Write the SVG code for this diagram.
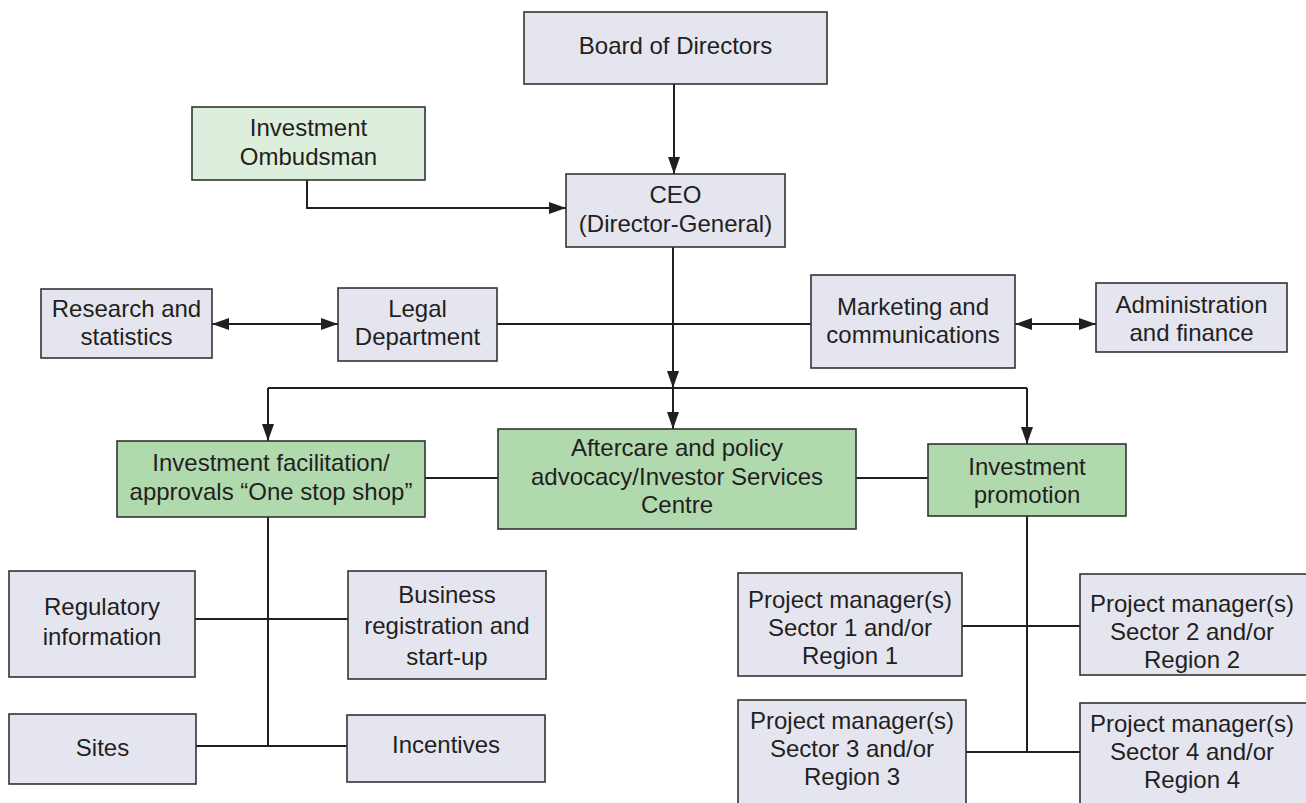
<svg xmlns="http://www.w3.org/2000/svg" width="1306" height="803" viewBox="0 0 1306 803">
<style>
.b{stroke:#333;stroke-width:1.6}
.p{fill:#E5E5F0}
.g{fill:#B1D9AE}
.lg{fill:#DDEEDC}
text{font-family:"Liberation Sans",Arial,sans-serif;font-size:24px;fill:#231F20;text-anchor:middle}
.c{fill:none;stroke:#231F20;stroke-width:2}
</style>
<defs>
<marker id="ah" markerUnits="userSpaceOnUse" markerWidth="17" markerHeight="12" refX="17" refY="6" orient="auto-start-reverse">
<path d="M0,0 L17,6 L0,12 z" fill="#231F20"/>
</marker>
</defs>
<rect width="1306" height="803" fill="#fff"/>
<g id="connectors">
<path class="c" d="M674,84 V174" marker-end="url(#ah)"/>
<path class="c" d="M307,180 V208 H566" marker-end="url(#ah)"/>
<path class="c" d="M212,324 H338" marker-start="url(#ah)" marker-end="url(#ah)"/>
<path class="c" d="M1015,324 H1096" marker-start="url(#ah)" marker-end="url(#ah)"/>
<path class="c" d="M497,324 H811"/>
<path class="c" d="M673,247 V388" marker-end="url(#ah)"/>
<path class="c" d="M268,388 H1027"/>
<path class="c" d="M268,388 V441" marker-end="url(#ah)"/>
<path class="c" d="M673,388 V429" marker-end="url(#ah)"/>
<path class="c" d="M1027,388 V444" marker-end="url(#ah)"/>
<path class="c" d="M425,478 H498 M856,478 H928"/>
<path class="c" d="M268,517 V746 M195,619 H348 M196,746 H347"/>
<path class="c" d="M1027,516 V752 M962,626 H1080 M966,752 H1080"/>
</g>
<g id="board"><rect class="b p" x="524" y="12" width="303" height="72"/><text x="675.5" y="54">Board of Directors</text></g>
<g id="ombudsman"><rect class="b lg" x="192" y="107" width="233" height="73"/><text x="308.5" y="136">Investment</text><text x="308.5" y="165">Ombudsman</text></g>
<g id="ceo"><rect class="b p" x="566" y="174" width="219" height="73"/><text x="675.5" y="203">CEO</text><text x="675.5" y="232">(Director-General)</text></g>
<g id="research"><rect class="b p" x="41" y="289" width="171" height="69"/><text x="126.5" y="317">Research and</text><text x="126.5" y="345">statistics</text></g>
<g id="legal"><rect class="b p" x="338" y="288" width="159" height="73"/><text x="417.5" y="317">Legal</text><text x="417.5" y="345">Department</text></g>
<g id="marketing"><rect class="b p" x="811" y="275" width="204" height="93"/><text x="913" y="315">Marketing and</text><text x="913" y="343">communications</text></g>
<g id="admin"><rect class="b p" x="1096" y="283" width="191" height="69"/><text x="1191.5" y="313">Administration</text><text x="1191.5" y="341">and finance</text></g>
<g id="facilitation"><rect class="b g" x="117" y="441" width="308" height="76"/><text x="271" y="471">Investment facilitation/</text><text x="271" y="500">approvals “One stop shop”</text></g>
<g id="aftercare"><rect class="b g" x="498" y="429" width="358" height="100"/><text x="677" y="456">Aftercare and policy</text><text x="677" y="485">advocacy/Investor Services</text><text x="677" y="513">Centre</text></g>
<g id="promotion"><rect class="b g" x="928" y="444" width="198" height="72"/><text x="1027" y="475">Investment</text><text x="1027" y="503">promotion</text></g>
<g id="regulatory"><rect class="b p" x="9" y="571" width="186" height="106"/><text x="102" y="615">Regulatory</text><text x="102" y="645">information</text></g>
<g id="business"><rect class="b p" x="348" y="571" width="198" height="108"/><text x="447" y="603">Business</text><text x="447" y="634">registration and</text><text x="447" y="665">start-up</text></g>
<g id="sites"><rect class="b p" x="9" y="714" width="187" height="70"/><text x="102.5" y="756">Sites</text></g>
<g id="incentives"><rect class="b p" x="347" y="715" width="198" height="67"/><text x="446" y="753">Incentives</text></g>
<g id="pm1"><rect class="b p" x="738" y="573" width="224" height="103"/><text x="850" y="608">Project manager(s)</text><text x="850" y="636">Sector 1 and/or</text><text x="850" y="664">Region 1</text></g>
<g id="pm2"><rect class="b p" x="1080" y="574" width="232" height="101"/><text x="1192" y="612">Project manager(s)</text><text x="1192" y="640">Sector 2 and/or</text><text x="1192" y="668">Region 2</text></g>
<g id="pm3"><rect class="b p" x="738" y="700" width="228" height="110"/><text x="852" y="729">Project manager(s)</text><text x="852" y="757">Sector 3 and/or</text><text x="852" y="785">Region 3</text></g>
<g id="pm4"><rect class="b p" x="1080" y="703" width="232" height="110"/><text x="1192" y="732">Project manager(s)</text><text x="1192" y="760">Sector 4 and/or</text><text x="1192" y="788">Region 4</text></g>
</svg>
